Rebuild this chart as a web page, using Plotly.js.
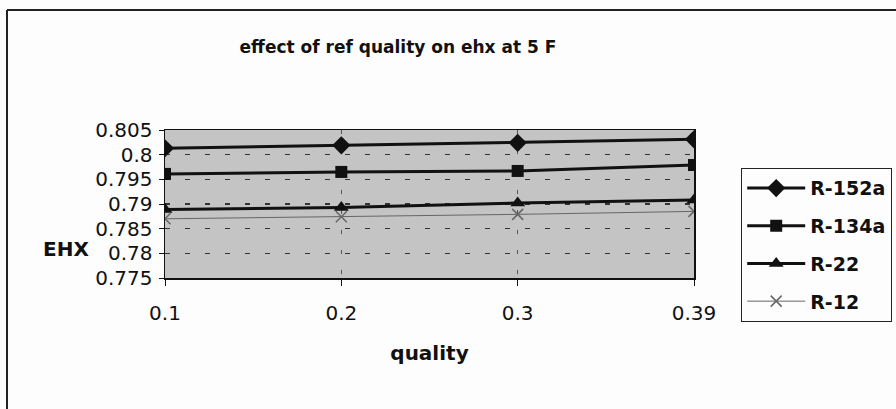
<!DOCTYPE html>
<html>
<head>
<meta charset="utf-8">
<script src="https://cdn.plot.ly/plotly-3.0.1.min.js"></script>
<style>html,body{margin:0;padding:0;background:#fdfdfd;}#chart{width:896px;height:409px;}</style>
</head>
<body>
<div id="chart"></div>
<script>
const categories = ['0.1', '0.2', '0.3', '0.39'];
const seriesNames = ['R-152a', 'R-134a', 'R-22', 'R-12'];
const r152a = [0.8013, 0.8019, 0.8024, 0.8031];
const r134a = [0.7961, 0.7965, 0.7967, 0.7979];
const r22 = [0.7889, 0.7893, 0.7902, 0.7908];
const r12 = [0.7870, 0.7874, 0.7879, 0.7885];
const yTicks = [0.775, 0.78, 0.785, 0.79, 0.795, 0.8, 0.805];
const yTickText = ['0.775', '0.78', '0.785', '0.79', '0.795', '0.8', '0.805'];

const styles = [
  {symbol: 'diamond', size: 14, color: '#111', width: 3},
  {symbol: 'square', size: 12, color: '#111', width: 3},
  {symbol: 'triangle-up', size: 13, color: '#111', width: 3},
  {symbol: 'x-thin', size: 11, color: '#666', width: 1}
];
const values = [r152a, r134a, r22, r12];

const traces = values.map((v, i) => ({
  x: categories,
  y: v,
  name: seriesNames[i],
  legendgroup: 'g' + i,
  type: 'scatter',
  mode: 'lines+markers',
  line: {color: styles[i].color, width: styles[i].width},
  marker: {symbol: styles[i].symbol, size: styles[i].size, color: styles[i].color,
           line: {color: styles[i].color, width: i === 3 ? 1.5 : 0}}
}));

const font = 'DejaVu Sans, Verdana, sans-serif';
const W = 896, H = 409, L = 165, R = 694, T = 130, B = 278;
const px = x => (x - L) / (R - L);
const py = y => (B - y) / (B - T);

const layout = {
  width: W, height: H,
  margin: {l: L, r: W - R, t: T, b: H - B, autoexpand: false},
  paper_bgcolor: '#fdfdfd',
  plot_bgcolor: '#c4c4c4',
  font: {family: font, color: '#111', size: 20},
  title: {text: '<b>effect of ref quality on ehx at 5 F</b>', x: 398 / W, xanchor: 'center',
          y: 1 - 47 / H, yanchor: 'middle', xref: 'container', yref: 'container',
          font: {family: font, size: 17, color: '#111'}},
  xaxis: {
    type: 'category', range: [0, 3], automargin: false,
    showline: true, linecolor: '#111', linewidth: 1.5, mirror: true,
    ticks: 'outside', ticklen: 6, tickcolor: '#111',
    showgrid: true, gridcolor: '#555', griddash: '4px,16px', gridwidth: 1,
    tickfont: {size: 20, family: font}, ticklabelstandoff: 10,
    title: {text: '<b>quality</b>', font: {size: 20, family: font}, standoff: 22}
  },
  yaxis: {
    range: [0.775, 0.805], tickvals: yTicks, ticktext: yTickText, automargin: false,
    showline: true, linecolor: '#111', linewidth: 1.5, mirror: true,
    ticks: 'outside', ticklen: 5, tickcolor: '#111',
    showgrid: true, gridcolor: '#333', griddash: '5px,15px', gridwidth: 1.5,
    zeroline: false,
    tickfont: {size: 20, family: font}, ticklabelstandoff: 2
  },
  legend: {
    x: px(741), xanchor: 'left', y: py(168), yanchor: 'top',
    bgcolor: '#fdfdfd', bordercolor: '#222', borderwidth: 1.2,
    font: {size: 19, family: font, color: '#111', weight: 'bold'},
    traceorder: 'grouped', tracegroupgap: 10, itemwidth: 58, maxheight: 400
  },
  annotations: [{
    text: '<b>EHX</b>', xref: 'paper', yref: 'paper', x: px(66), y: py(249),
    xanchor: 'center', yanchor: 'middle', showarrow: false, font: {size: 20, family: font}
  }],
  shapes: [
    {type: 'line', xref: 'paper', yref: 'paper', x0: px(7), x1: px(7),
     y0: py(10), y1: py(409), line: {color: '#222', width: 2}},
    {type: 'line', xref: 'paper', yref: 'paper', x0: px(7), x1: px(896),
     y0: py(10), y1: py(10), line: {color: '#222', width: 2}}
  ],
  showlegend: true
};
Plotly.newPlot('chart', traces, layout, {displayModeBar: false, staticPlot: true});
</script>
</body>
</html>
